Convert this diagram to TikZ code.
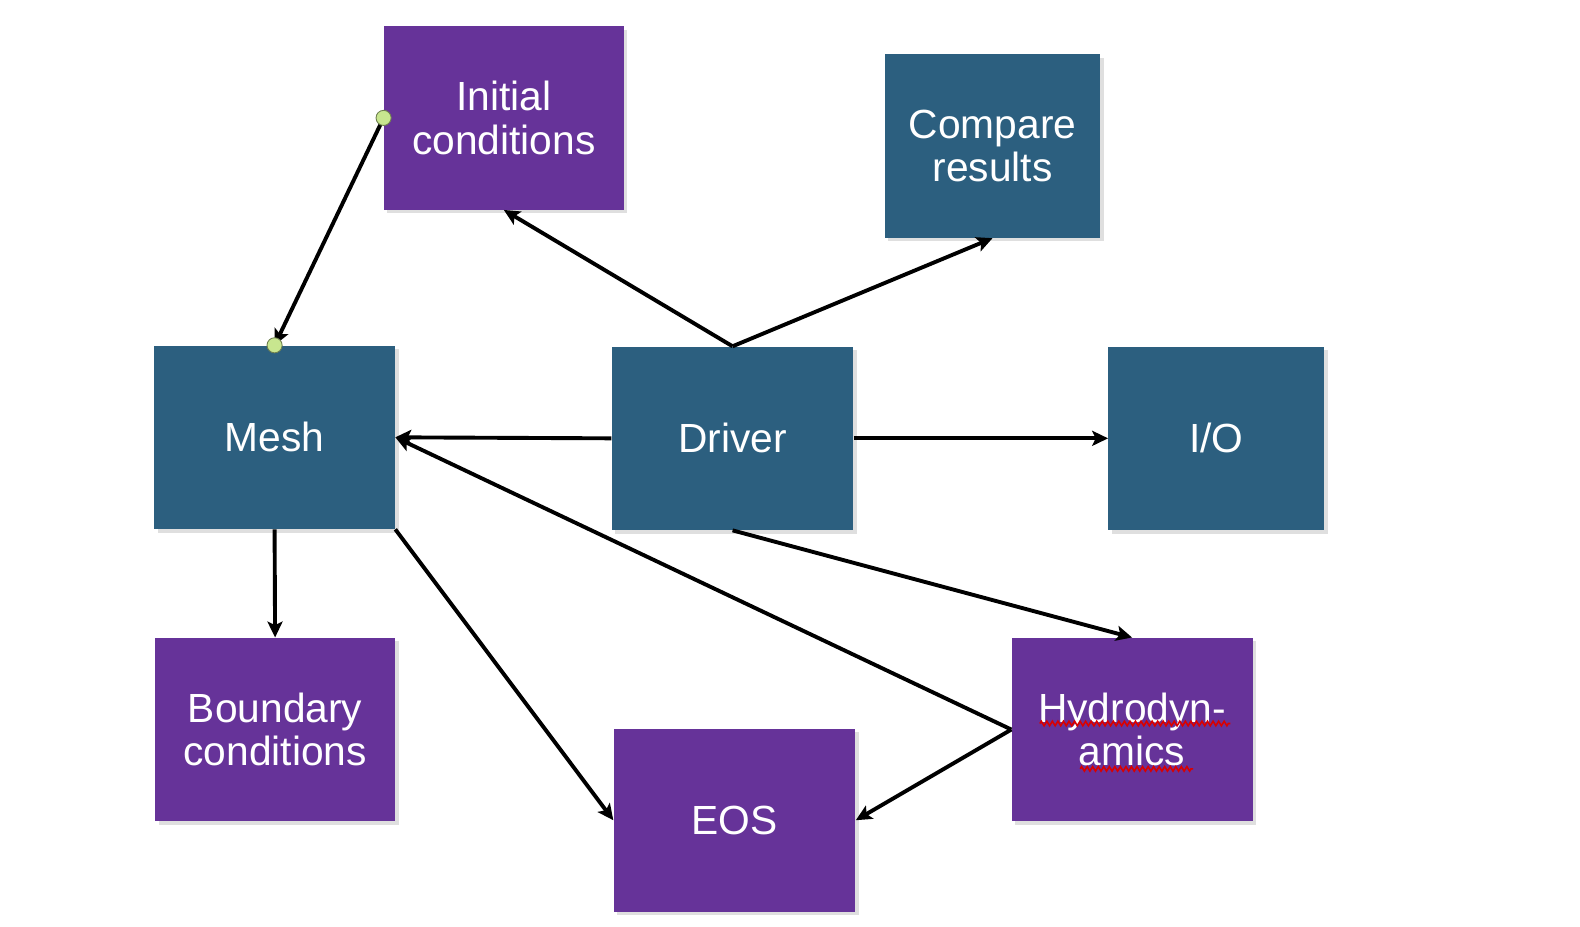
\documentclass[tikz,border=0pt]{standalone}
\usepackage{fontspec}
\setmainfont{Liberation Sans}
\usetikzlibrary{arrows.meta,shadows,decorations.pathmorphing}

\definecolor{modblue}{HTML}{2C5F7F}
\definecolor{modpurple}{HTML}{663399}
\definecolor{dotgreen}{HTML}{C8E68F}

\tikzset{
  module/.style={fill=#1, text=white, minimum height=3.64cm, inner sep=0pt,
    align=center, font=\fontsize{23}{24.5}\selectfont,
    drop shadow={opacity=0.25, shadow xshift=2pt, shadow yshift=-2pt}},
  link/.style={->, line width=2.2pt},
  enddot/.style={circle, fill=dotgreen, draw=black!45!dotgreen, line width=0.5pt,
    minimum size=0.3cm, inner sep=0pt},
  squiggle/.style={red!85!black, line width=0.9pt,
    decorate, decoration={zigzag, segment length=0.11cm, amplitude=0.045cm}}
}

\begin{document}
\begin{tikzpicture}[x=0.02cm, y=-0.02cm, >={Stealth[length=9pt,width=8.5pt,inset=2pt]}]
	\useasboundingbox (0,0) rectangle (1568,919);
	% modules
	\node[module=modpurple, minimum width=4.76cm] (init) at (500,117) {Initial\\conditions};
	\node[module=modblue, minimum width=4.28cm] (compare) at (985,145) {Compare\\results};
	\node[module=modblue, minimum width=4.78cm] (mesh) at (272.5,434) {Mesh};
	\node[module=modblue, minimum width=4.8cm] (driver) at (727,435) {Driver};
	\node[module=modblue, minimum width=4.28cm] (io) at (1207,435) {I/O};
	\node[module=modpurple, minimum width=4.76cm] (bc) at (273,724) {Boundary\\conditions};
	\node[module=modpurple, minimum width=4.8cm] (eos) at (729,814) {EOS};
	\node[module=modpurple, minimum width=4.78cm] (hydro) at (1123.5,724) {Hydrodyn-\\amics};
	% spell check marks
	\draw[squiggle] (1032,718) -- (1221,718);
	\draw[squiggle] (1072,763) -- (1184,763);
	% connectors
	\draw[link] (init.west) -- (mesh.north);
	\node[enddot] (initdot) at (init.west) {};
	\node[enddot] (meshdot) at (mesh.north) {};
	\draw[link] (driver.north) -- (init.south);
	\draw[link] (driver.north) -- (compare.south);
	\draw[link] (driver.west) -- (mesh.east);
	\draw[link] (driver.east) -- (io.west);
	\draw[link] (driver.south) -- (hydro.north);
	\draw[link] (hydro.west) -- (mesh.east);
	\draw[link] (hydro.west) -- (eos.east);
	\draw[link] (mesh.south) -- (bc.north);
	\draw[link] (mesh.south east) -- (eos.west);
\end{tikzpicture}
\end{document}
